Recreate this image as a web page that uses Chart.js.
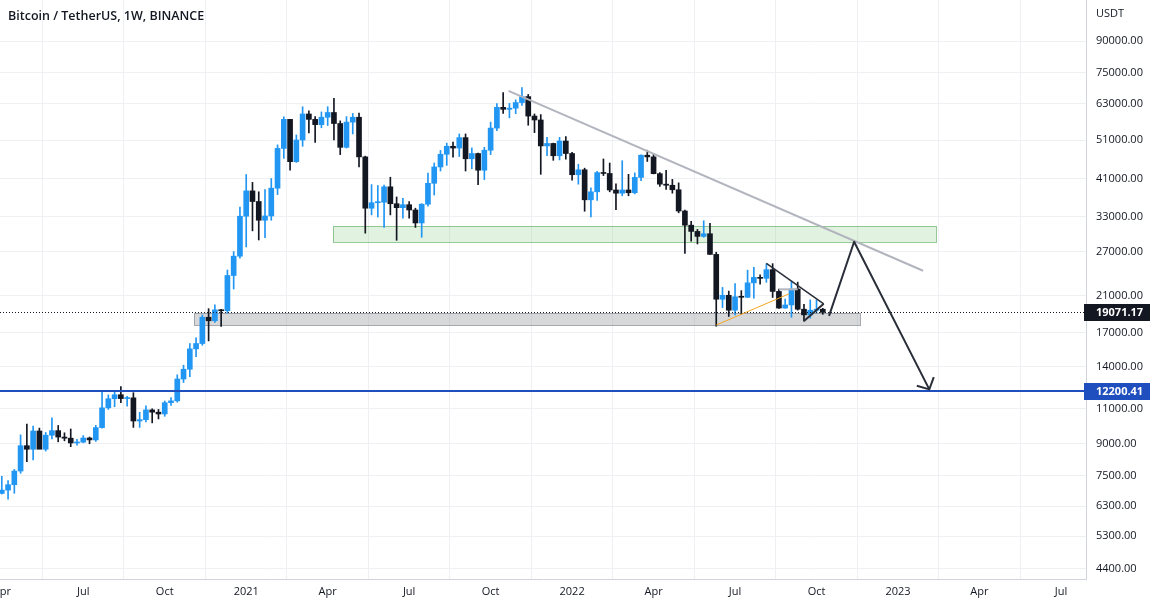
<!DOCTYPE html>
<html>
<head>
<meta charset="utf-8">
<script src="https://cdn.jsdelivr.net/npm/chart.js@4.4.0/dist/chart.umd.min.js"></script>
<style>
  html, body { margin: 0; padding: 0; background: #fff; }
</style>
</head>
<body>
<canvas id="btc" width="1161" height="606"></canvas>
<script>
// --- data (weekly candles, BINANCE BTCUSDT, first week starts 2020-04-06) ---
const firstWeek = '2020-04-06';

const opens = [
  6775, 6905, 7120, 7700, 8900, 8720, 9680, 8720, 9450, 9700,
  9350, 9290, 9040, 9080, 9300, 9200, 9870, 11050, 11640, 11910,
  11650, 11700, 10250, 10330, 10920, 10780, 10670, 11380, 11500, 13030,
  13780, 15480, 15960, 18550, 18180, 19350, 19250, 23550, 26300, 33050,
  38200, 35950, 32300, 33100, 38800, 48700, 57500, 45150, 51100, 59300,
  57500, 55800, 58200, 59800, 56150, 49000, 56600, 58200, 46400, 34600,
  35700, 35800, 39100, 35500, 34700, 35300, 34250, 31800, 35400, 39900,
  43800, 47100, 49300, 48800, 51800, 45900, 47300, 43000, 48200, 54700,
  61600, 60900, 61300, 63300, 65500, 58600, 57300, 49400, 50100, 46700,
  50800, 47300, 41900, 43100, 36300, 38000, 42400, 42200, 38400, 37700,
  38400, 37800, 41260, 46850, 46400, 42150, 39700, 39450, 38450, 34050,
  31400, 30300, 29450, 29900, 26570, 20560, 21030, 19310, 20850, 20790,
  22580, 23300, 23170, 24350, 21500, 19550, 19900, 21800, 19420, 18800,
  19310, 19420
];
const highs = [
  7470, 7290, 7770, 9470, 10070, 9950, 9840, 9600, 10430, 9990,
  9580, 9790, 9230, 9430, 9350, 10000, 12120, 11900, 12080, 12470,
  11800, 12050, 10770, 11180, 10990, 10950, 11490, 11720, 13350, 14100,
  15960, 16480, 18800, 19480, 19900, 19420, 24300, 27000, 34800, 41950,
  40100, 38000, 38500, 41000, 49700, 58350, 57550, 52600, 61800, 60400,
  58400, 60000, 61800, 64850, 57000, 58400, 59500, 59600, 46600, 39600,
  39400, 39500, 41300, 36900, 36600, 35950, 34600, 35500, 42300, 44800,
  48150, 50200, 50500, 52900, 52900, 48850, 47400, 49000, 56600, 62900,
  67000, 63000, 64300, 69000, 66300, 59300, 59100, 51900, 50200, 51900,
  52100, 47600, 44500, 43500, 38900, 42700, 45850, 44800, 39800, 45400,
  42000, 42350, 46950, 48200, 47200, 42400, 42980, 40800, 40000, 34250,
  32100, 30650, 32200, 31750, 26900, 22000, 21540, 22500, 21600, 24280,
  24670, 23650, 25200, 25200, 21800, 20580, 22800, 22670, 19960, 20480,
  20475, 19520
];
const lows = [
  6750, 6555, 6780, 7600, 8120, 8200, 8820, 8630, 9250, 9100,
  9150, 8850, 8930, 9050, 9000, 9120, 9840, 10950, 11120, 11380,
  11150, 9880, 9880, 10200, 10140, 10370, 10530, 11200, 11410, 12770,
  13200, 14810, 15800, 16200, 18000, 17600, 19000, 21800, 26000, 27730,
  30400, 28850, 29250, 32300, 37400, 46000, 43000, 44950, 49300, 53200,
  50400, 54800, 55500, 51100, 47000, 48800, 52900, 43800, 30000, 33300,
  32900, 31000, 33300, 28800, 32700, 32700, 31000, 29300, 35000, 37300,
  42800, 44200, 46350, 46500, 42800, 43350, 39600, 40750, 47000, 53900,
  59500, 58000, 59400, 62300, 55600, 53300, 42000, 46700, 45500, 45600,
  45800, 40600, 39700, 34000, 32900, 36200, 41700, 38000, 34300, 37150,
  37150, 37550, 40500, 45200, 42100, 39200, 38550, 37700, 33700, 26700,
  28650, 28200, 29300, 26560, 17620, 19600, 18630, 18800, 18900, 20750,
  20700, 22400, 22650, 20770, 19520, 19520, 18540, 19320, 18150, 18460,
  19000, 18860
];
const closes = [
  6905, 7120, 7700, 8900, 8720, 9680, 8720, 9450, 9700, 9350,
  9290, 9040, 9080, 9300, 9200, 9870, 11050, 11640, 11910, 11650,
  11700, 10250, 10330, 10920, 10780, 10670, 11380, 11500, 13030, 13780,
  15480, 15960, 18550, 18180, 19350, 19250, 23550, 26300, 33050, 38200,
  35950, 32300, 33100, 38800, 48700, 57500, 45150, 51100, 59300, 57500,
  55800, 58200, 59800, 56150, 49000, 56600, 58200, 46400, 34600, 35700,
  35800, 39100, 35500, 34700, 35300, 34250, 31800, 35400, 39900, 43800,
  47100, 49300, 48800, 51800, 45900, 47300, 43000, 48200, 54700, 61600,
  60900, 61300, 63300, 65500, 58600, 57300, 49400, 50100, 46700, 50800,
  47300, 41900, 43100, 36300, 38000, 42400, 42200, 38400, 37700, 38400,
  37800, 41260, 46850, 46400, 42150, 39700, 39450, 38450, 34050, 31400,
  30300, 29450, 29900, 26570, 20560, 21030, 19310, 20850, 20790, 22580,
  23300, 23170, 24350, 21500, 19550, 19900, 21800, 19420, 18800, 19310,
  19420, 19071.17
];

const priceTicks = [90000, 75000, 63000, 51000, 41000, 33000, 27000, 21000,
  17000, 14000, 11000, 9000, 7500, 6300, 5300, 4400];
const quarterMonths = ['2020-04', '2020-07', '2020-10', '2021-01', '2021-04', '2021-07', '2021-10',
  '2022-01', '2022-04', '2022-07', '2022-10', '2023-01', '2023-04', '2023-07'];
const monthNames = { '01': null, '04': 'Apr', '07': 'Jul', '10': 'Oct' };

// drawings on the chart: [date, price]
const resistanceLine = [['2021-10-24', 67700], ['2023-01-30', 24200]];
const projectionPath = [['2022-10-17', 18700], ['2022-11-14', 28570], ['2023-02-06', 12280]];
const triangleUpper = [['2022-08-08', 25250], ['2022-10-11', 20010]];
const triangleLower = [['2022-09-19', 18150], ['2022-10-11', 20050]];
const pennantMid = [['2022-08-22', 21760], ['2022-09-12', 21760]];
const orangeLine = [['2022-06-13', 17740], ['2022-09-02', 21190]];
const greenZone = ['2021-04-11', '2023-02-14', 31250, 28450];
const grayZone = ['2020-11-07', '2022-11-21', 19000, 17690];
const lastPrice = 19071.17;
const targetPrice = 12200.41;

// --- helpers ---
const DAY = 864e5;
const EPOCH = Date.UTC(2020, 0, 1);
const toDay = s => {
  const [y, m, d] = s.split('-').map(Number);
  return (Date.UTC(y, m - 1, d) - EPOCH) / DAY;
};
const firstMonday = ym => {
  const [y, m] = ym.split('-').map(Number);
  const t = Date.UTC(y, m - 1, 1);
  const dow = new Date(t).getUTCDay();
  return (t + ((8 - dow) % 7) * DAY - EPOCH) / DAY;
};

const weekDays = closes.map((_, i) => toDay(firstWeek) + 7 * i);
const tickDays = quarterMonths.map(firstMonday);
const tickLabels = quarterMonths.map(ym => monthNames[ym.slice(5)] || ym.slice(0, 4));

const UP = '#2196f3';
const DOWN = '#131722';
const TEXT = '#131722';
const GRID = '#eef0f4';
const FONT = "'Open Sans', 'Noto Sans', sans-serif";
const candleColors = closes.map((c, i) => c >= opens[i] ? UP : DOWN);

const pt = (x, y, p) => [x.getPixelForValue(toDay(p[0])), y.getPixelForValue(p[1])];

function strokePath(ctx, x, y, points, color, width) {
  ctx.save();
  ctx.strokeStyle = color;
  ctx.lineWidth = width;
  ctx.lineJoin = 'round';
  ctx.beginPath();
  points.forEach((p, i) => {
    const [px, py] = pt(x, y, p);
    if (i === 0) ctx.moveTo(px, py); else ctx.lineTo(px, py);
  });
  ctx.stroke();
  ctx.restore();
}

function fillZone(ctx, x, y, zone, fill, stroke) {
  const x0 = x.getPixelForValue(toDay(zone[0]));
  const x1 = x.getPixelForValue(toDay(zone[1]));
  const y0 = y.getPixelForValue(zone[2]);
  const y1 = y.getPixelForValue(zone[3]);
  ctx.save();
  ctx.fillStyle = fill;
  ctx.fillRect(x0, y0, x1 - x0, y1 - y0);
  ctx.strokeStyle = stroke;
  ctx.lineWidth = 1;
  ctx.strokeRect(Math.round(x0) + 0.5, Math.round(y0) + 0.5, Math.round(x1 - x0), Math.round(y1 - y0));
  ctx.restore();
}

function priceLabel(ctx, chart, value, bg) {
  const py = chart.scales.y.getPixelForValue(value);
  const left = chart.chartArea.right - 2;
  ctx.save();
  ctx.fillStyle = bg;
  ctx.fillRect(left, Math.round(py) - 8, 66, 17);
  ctx.fillStyle = '#ffffff';
  ctx.font = 'bold 11px ' + FONT;
  ctx.textBaseline = 'middle';
  ctx.fillText(value.toFixed(2), chart.chartArea.right + 10, Math.round(py) + 0.5);
  ctx.restore();
}

const drawings = {
  id: 'drawings',
  beforeDatasetsDraw(chart) {
    const { ctx, scales: { x, y } } = chart;
    fillZone(ctx, x, y, greenZone, 'rgba(118, 196, 112, 0.22)', 'rgba(76, 160, 80, 0.55)');
    fillZone(ctx, x, y, grayZone, 'rgba(150, 152, 158, 0.38)', 'rgba(120, 123, 134, 0.6)');
  },
  afterDatasetsDraw(chart) {
    const { ctx, chartArea: a, scales: { x, y } } = chart;

    // last price dotted line
    const ly = Math.round(y.getPixelForValue(lastPrice)) + 0.5;
    ctx.save();
    ctx.strokeStyle = '#131722';
    ctx.lineWidth = 1;
    ctx.setLineDash([1, 2]);
    ctx.beginPath();
    ctx.moveTo(a.left, ly);
    ctx.lineTo(a.right, ly);
    ctx.stroke();
    ctx.restore();

    // target horizontal line
    const ty = Math.round(y.getPixelForValue(targetPrice));
    ctx.save();
    ctx.strokeStyle = '#1f4fbf';
    ctx.lineWidth = 2;
    ctx.beginPath();
    ctx.moveTo(a.left, ty);
    ctx.lineTo(a.right, ty);
    ctx.stroke();
    ctx.restore();

    strokePath(ctx, x, y, resistanceLine, '#b2b5be', 2);
    strokePath(ctx, x, y, orangeLine, '#f5a623', 1);
    strokePath(ctx, x, y, pennantMid, '#b2b5be', 2);
    strokePath(ctx, x, y, triangleUpper, '#2a2e39', 1.5);
    strokePath(ctx, x, y, triangleLower, '#2a2e39', 2);
    strokePath(ctx, x, y, projectionPath, '#2a2e39', 2);

    // arrow head at the end of the projection
    const [ax, ay] = pt(x, y, projectionPath[projectionPath.length - 1]);
    const [bx, by] = pt(x, y, projectionPath[projectionPath.length - 2]);
    const back = Math.atan2(by - ay, bx - ax);
    const len = 13, spread = 47 * Math.PI / 180;
    ctx.save();
    ctx.strokeStyle = '#2a2e39';
    ctx.lineWidth = 2;
    ctx.beginPath();
    ctx.moveTo(ax + len * Math.cos(back - spread), ay + len * Math.sin(back - spread));
    ctx.lineTo(ax, ay);
    ctx.lineTo(ax + len * Math.cos(back + spread), ay + len * Math.sin(back + spread));
    ctx.stroke();
    ctx.restore();
  },
  afterDraw(chart) {
    const { ctx, chartArea: a } = chart;
    ctx.save();
    ctx.fillStyle = TEXT;
    ctx.font = '600 12.5px ' + FONT;
    ctx.textBaseline = 'middle';
    ctx.fillText('Bitcoin / TetherUS, 1W, BINANCE', 8, 16);
    ctx.font = '11px ' + FONT;
    ctx.fillText('USDT', a.right + 10, 14);
    ctx.restore();
    priceLabel(ctx, chart, lastPrice, '#131722');
    priceLabel(ctx, chart, targetPrice, '#1f4fbf');
  }
};

new Chart(document.getElementById('btc').getContext('2d'), {
  type: 'bar',
  data: {
    datasets: [
      {
        label: 'body',
        data: weekDays.map((d, i) => ({ x: d, y: [opens[i], closes[i]] })),
        backgroundColor: candleColors,
        barThickness: 5,
        minBarLength: 1,
        grouped: false
      },
      {
        label: 'wick',
        data: weekDays.map((d, i) => ({ x: d, y: [lows[i], highs[i]] })),
        backgroundColor: candleColors,
        barThickness: 1,
        grouped: false
      }
    ]
  },
  options: {
    responsive: false,
    animation: false,
    devicePixelRatio: 1,
    layout: { padding: 0 },
    plugins: {
      legend: { display: false },
      tooltip: { enabled: false }
    },
    scales: {
      x: {
        type: 'linear',
        min: toDay('2020-04-04'),
        max: toDay('2023-07-31'),
        offset: false,
        grid: { color: GRID, drawTicks: false },
        border: { color: '#d1d4dc' },
        ticks: {
          autoSkip: false,
          maxRotation: 0,
          padding: 6,
          color: TEXT,
          font: { family: FONT, size: 11 },
          callback: (v, i) => tickLabels[i]
        },
        afterBuildTicks: s => { s.ticks = tickDays.map(v => ({ value: v })); },
        afterFit: s => { s.height = 27; s.paddingLeft = 0; s.paddingRight = 0; }
      },
      y: {
        type: 'logarithmic',
        position: 'right',
        min: 4153,
        max: 113780,
        grid: { color: GRID, drawTicks: false },
        border: { color: '#d1d4dc' },
        ticks: {
          padding: 10,
          color: TEXT,
          font: { family: FONT, size: 11 },
          callback: v => Number(v).toFixed(2)
        },
        afterBuildTicks: s => { s.ticks = priceTicks.map(v => ({ value: v })); },
        afterFit: s => { s.width = 75; s.paddingTop = 0; s.paddingBottom = 0; }
      }
    }
  },
  plugins: [drawings]
});
</script>
</body>
</html>
